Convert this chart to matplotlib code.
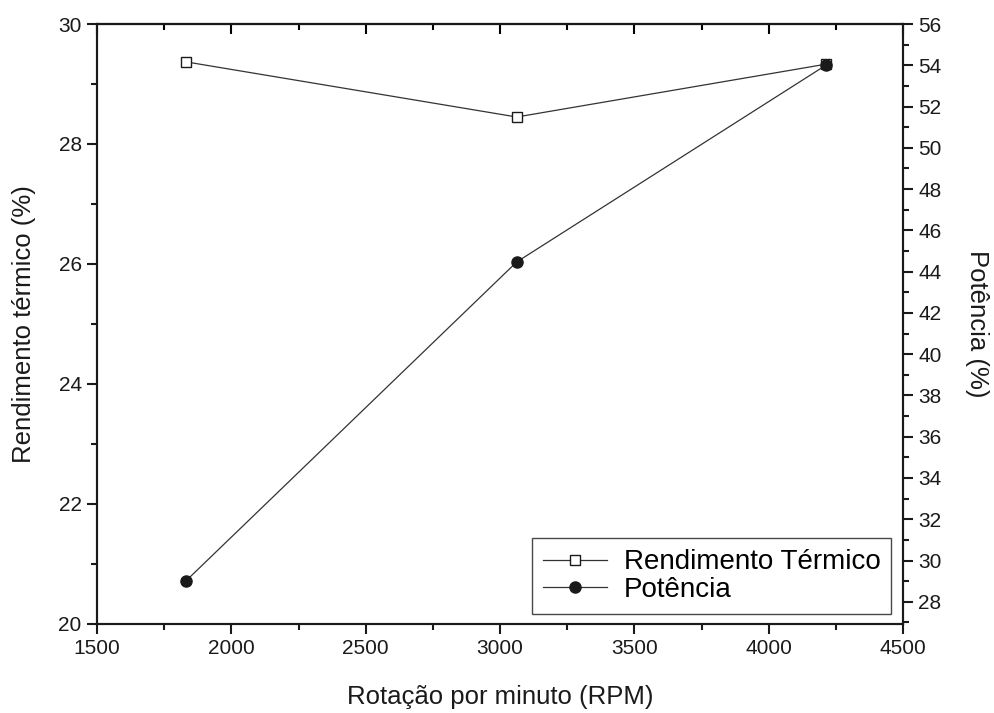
import matplotlib
matplotlib.use("Agg")
import matplotlib.pyplot as plt
from matplotlib.ticker import MultipleLocator

plt.rcParams.update({
    "font.family": "sans-serif",
    "font.sans-serif": ["Liberation Sans", "DejaVu Sans"],
    "font.size": 15,
})

INK = "#1a1a1a"

rpm = [1830, 3062, 4212]
rendimento = [29.37, 28.45, 29.33]   # %
potencia = [29.0, 44.47, 54.0]       # %

fig = plt.figure(figsize=(9.94, 7.13), dpi=100)
ax = fig.add_axes([0.0976, 0.125, 0.811, 0.8413])
ax2 = ax.twinx()

l1, = ax.plot(rpm, rendimento, "-", color="#333333", lw=0.9,
              marker="s", ms=7, mfc="white", mec=INK, mew=1.0)
l2, = ax2.plot(rpm, potencia, "-", color="#333333", lw=0.9,
               marker="o", ms=8, mfc=INK, mec=INK)

ax.set_xlim(1500, 4500)
ax.set_ylim(20, 30)
ax2.set_ylim(26.93, 56)

ax.xaxis.set_major_locator(MultipleLocator(500))
ax.xaxis.set_minor_locator(MultipleLocator(250))
ax.yaxis.set_major_locator(MultipleLocator(2))
ax.yaxis.set_minor_locator(MultipleLocator(1))
ax2.yaxis.set_major_locator(MultipleLocator(2))
ax2.yaxis.set_minor_locator(MultipleLocator(1))

for a in (ax, ax2):
    a.tick_params(which="both", direction="out", width=1.5, labelsize=15,
                  colors=INK, top=False, pad=4)
    a.tick_params(which="major", length=7)
    a.tick_params(which="minor", length=4)
    for s in a.spines.values():
        s.set_linewidth(1.5)
        s.set_color(INK)

# inward ticks on top spine (Origin style)
top = ax.secondary_xaxis("top")
top.set_xticks(range(1500, 4501, 500))
top.xaxis.set_minor_locator(MultipleLocator(250))
top.tick_params(which="both", direction="in", width=1.5, labeltop=False)
top.tick_params(which="major", length=7)
top.tick_params(which="minor", length=4)
top.spines["top"].set_linewidth(1.5)

ax.set_xlabel("Rotação por minuto (RPM)", fontsize=18.5, labelpad=19, color=INK)
ax.set_ylabel("Rendimento térmico (%)", fontsize=18.5, labelpad=16, color=INK)
ax2.set_ylabel("Potência (%)", fontsize=18.5, rotation=270, labelpad=34, color=INK)

leg = ax.legend([l1, l2], ["Rendimento Térmico", "Potência"],
                loc="lower right", bbox_to_anchor=(0.9855, 0.0167),
                fontsize=20, frameon=True, fancybox=False, handlelength=2.3,
                borderpad=0.4, labelspacing=0.05, handletextpad=0.6,
                borderaxespad=0)
leg.get_frame().set_edgecolor(INK)
leg.get_frame().set_linewidth(1.0)
leg.set_zorder(5)

fig.savefig("out.png", dpi=100)
